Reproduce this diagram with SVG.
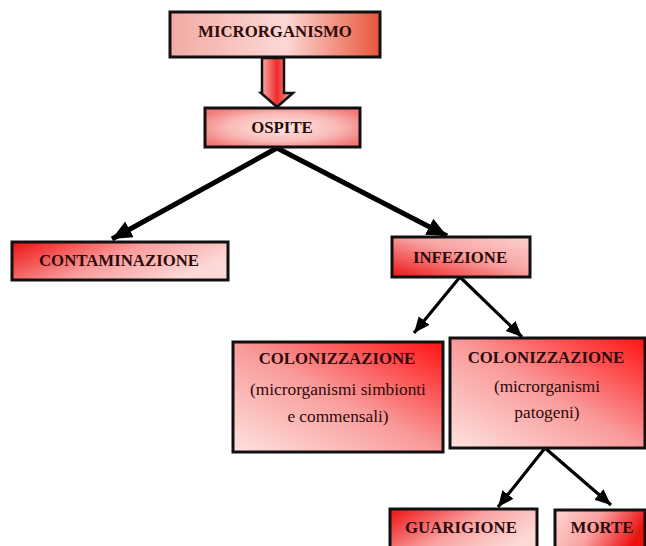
<svg xmlns="http://www.w3.org/2000/svg" width="646" height="546" viewBox="0 0 646 546">
<style>
.box{stroke:#111;stroke-width:3}
.h{font-family:"Liberation Serif","Times New Roman",serif;font-weight:bold;font-size:16.8px;fill:#2e0a0a;text-anchor:middle}
.s{font-family:"Liberation Serif","Times New Roman",serif;font-size:17.3px;fill:#2e0a0a;text-anchor:middle}
.c1{stroke:#000;stroke-width:5;fill:none}
.c2{stroke:#000;stroke-width:3.2;fill:none}
</style>
<defs>
<linearGradient id="gMicro" x1="0" y1="0" x2="1" y2="0">
<stop offset="0" stop-color="#f4aaa5"/><stop offset="0.55" stop-color="#fcd8d4"/><stop offset="1" stop-color="#e9553b"/>
</linearGradient>
<radialGradient id="gOsp" cx="0.5" cy="0.5" r="0.6">
<stop offset="0" stop-color="#fde8e6"/><stop offset="0.6" stop-color="#f9b9b6"/><stop offset="1" stop-color="#f27a78"/>
</radialGradient>
<linearGradient id="gCont" x1="0" y1="0" x2="1" y2="0.4">
<stop offset="0" stop-color="#ee1010"/><stop offset="0.55" stop-color="#f99d9d"/><stop offset="1" stop-color="#fcd9d6"/>
</linearGradient>
<linearGradient id="gInf" x1="0" y1="1" x2="1" y2="0">
<stop offset="0" stop-color="#ee1414"/><stop offset="0.55" stop-color="#f8a3a3"/><stop offset="1" stop-color="#fbd3d0"/>
</linearGradient>
<linearGradient id="gCol" x1="1" y1="0" x2="0" y2="1">
<stop offset="0" stop-color="#ff1212"/><stop offset="0.5" stop-color="#f99a9a"/><stop offset="1" stop-color="#fde2de"/>
</linearGradient>
<linearGradient id="gGua" x1="0" y1="0" x2="1" y2="0.5">
<stop offset="0" stop-color="#ee1010"/><stop offset="0.55" stop-color="#f9a3a3"/><stop offset="1" stop-color="#fcdad6"/>
</linearGradient>
<linearGradient id="gMor" x1="0" y1="0" x2="1" y2="0.3">
<stop offset="0" stop-color="#fcd6d2"/><stop offset="0.5" stop-color="#f8a0a0"/><stop offset="1" stop-color="#ee1010"/>
</linearGradient>
<linearGradient id="gArr" x1="0" y1="0" x2="1" y2="0">
<stop offset="0" stop-color="#f7b4b0"/><stop offset="0.5" stop-color="#ef2a2a"/><stop offset="1" stop-color="#f7b4b0"/>
</linearGradient>
<marker id="ah1" markerUnits="userSpaceOnUse" markerWidth="22" markerHeight="20" refX="20" refY="9" orient="auto">
<path d="M0,0 L20,9 L0,18 z" fill="#000"/>
</marker>
<marker id="ah2" markerUnits="userSpaceOnUse" markerWidth="18" markerHeight="16" refX="16" refY="7" orient="auto">
<path d="M0,0 L16,7 L0,14 z" fill="#000"/>
</marker>
</defs>

<g id="connectors">
<path d="M262,58 L284,58 L284,93 L293,93 L277,107 L261,93 L262,93 Z" fill="url(#gArr)" stroke="#111" stroke-width="2.5"/>
<line class="c1" x1="277" y1="148" x2="112" y2="239" marker-end="url(#ah1)"/>
<line class="c1" x1="277" y1="148" x2="447" y2="236" marker-end="url(#ah1)"/>
<line class="c2" x1="460" y1="277" x2="414" y2="333" marker-end="url(#ah2)"/>
<line class="c2" x1="460" y1="277" x2="522" y2="337" marker-end="url(#ah2)"/>
<line class="c2" x1="545" y1="448" x2="498" y2="507" marker-end="url(#ah2)"/>
<line class="c2" x1="545" y1="448" x2="611" y2="505" marker-end="url(#ah2)"/>
</g>

<g id="microrganismo">
<rect class="box" x="170" y="12" width="210" height="45" fill="url(#gMicro)"/>
<text class="h" x="275" y="37">MICRORGANISMO</text>
</g>
<g id="ospite">
<rect class="box" x="205" y="108" width="155" height="39" fill="url(#gOsp)"/>
<text class="h" x="282" y="133">OSPITE</text>
</g>
<g id="contaminazione">
<rect class="box" x="12" y="242" width="216" height="38" fill="url(#gCont)"/>
<text class="h" x="119" y="266">CONTAMINAZIONE</text>
</g>
<g id="infezione">
<rect class="box" x="392" y="237" width="138" height="40" fill="url(#gInf)"/>
<text class="h" x="460" y="263">INFEZIONE</text>
</g>
<g id="colonizzazione-simbionti">
<rect class="box" x="233" y="342" width="210" height="110" fill="url(#gCol)"/>
<text class="h" x="337" y="364">COLONIZZAZIONE</text>
<text class="s" x="338" y="395">(microrganismi simbionti</text>
<text class="s" x="338" y="422">e commensali)</text>
</g>
<g id="colonizzazione-patogeni">
<rect class="box" x="450" y="338" width="195" height="110" fill="url(#gCol)"/>
<text class="h" x="546" y="363">COLONIZZAZIONE</text>
<text class="s" x="547" y="392">(microrganismi</text>
<text class="s" x="547" y="418">patogeni)</text>
</g>
<g id="guarigione">
<rect class="box" x="390" y="509" width="147" height="45" fill="url(#gGua)"/>
<text class="h" x="461" y="533">GUARIGIONE</text>
</g>
<g id="morte">
<rect class="box" x="555" y="510" width="90" height="45" fill="url(#gMor)"/>
<text class="h" x="602" y="533">MORTE</text>
</g>
</svg>
